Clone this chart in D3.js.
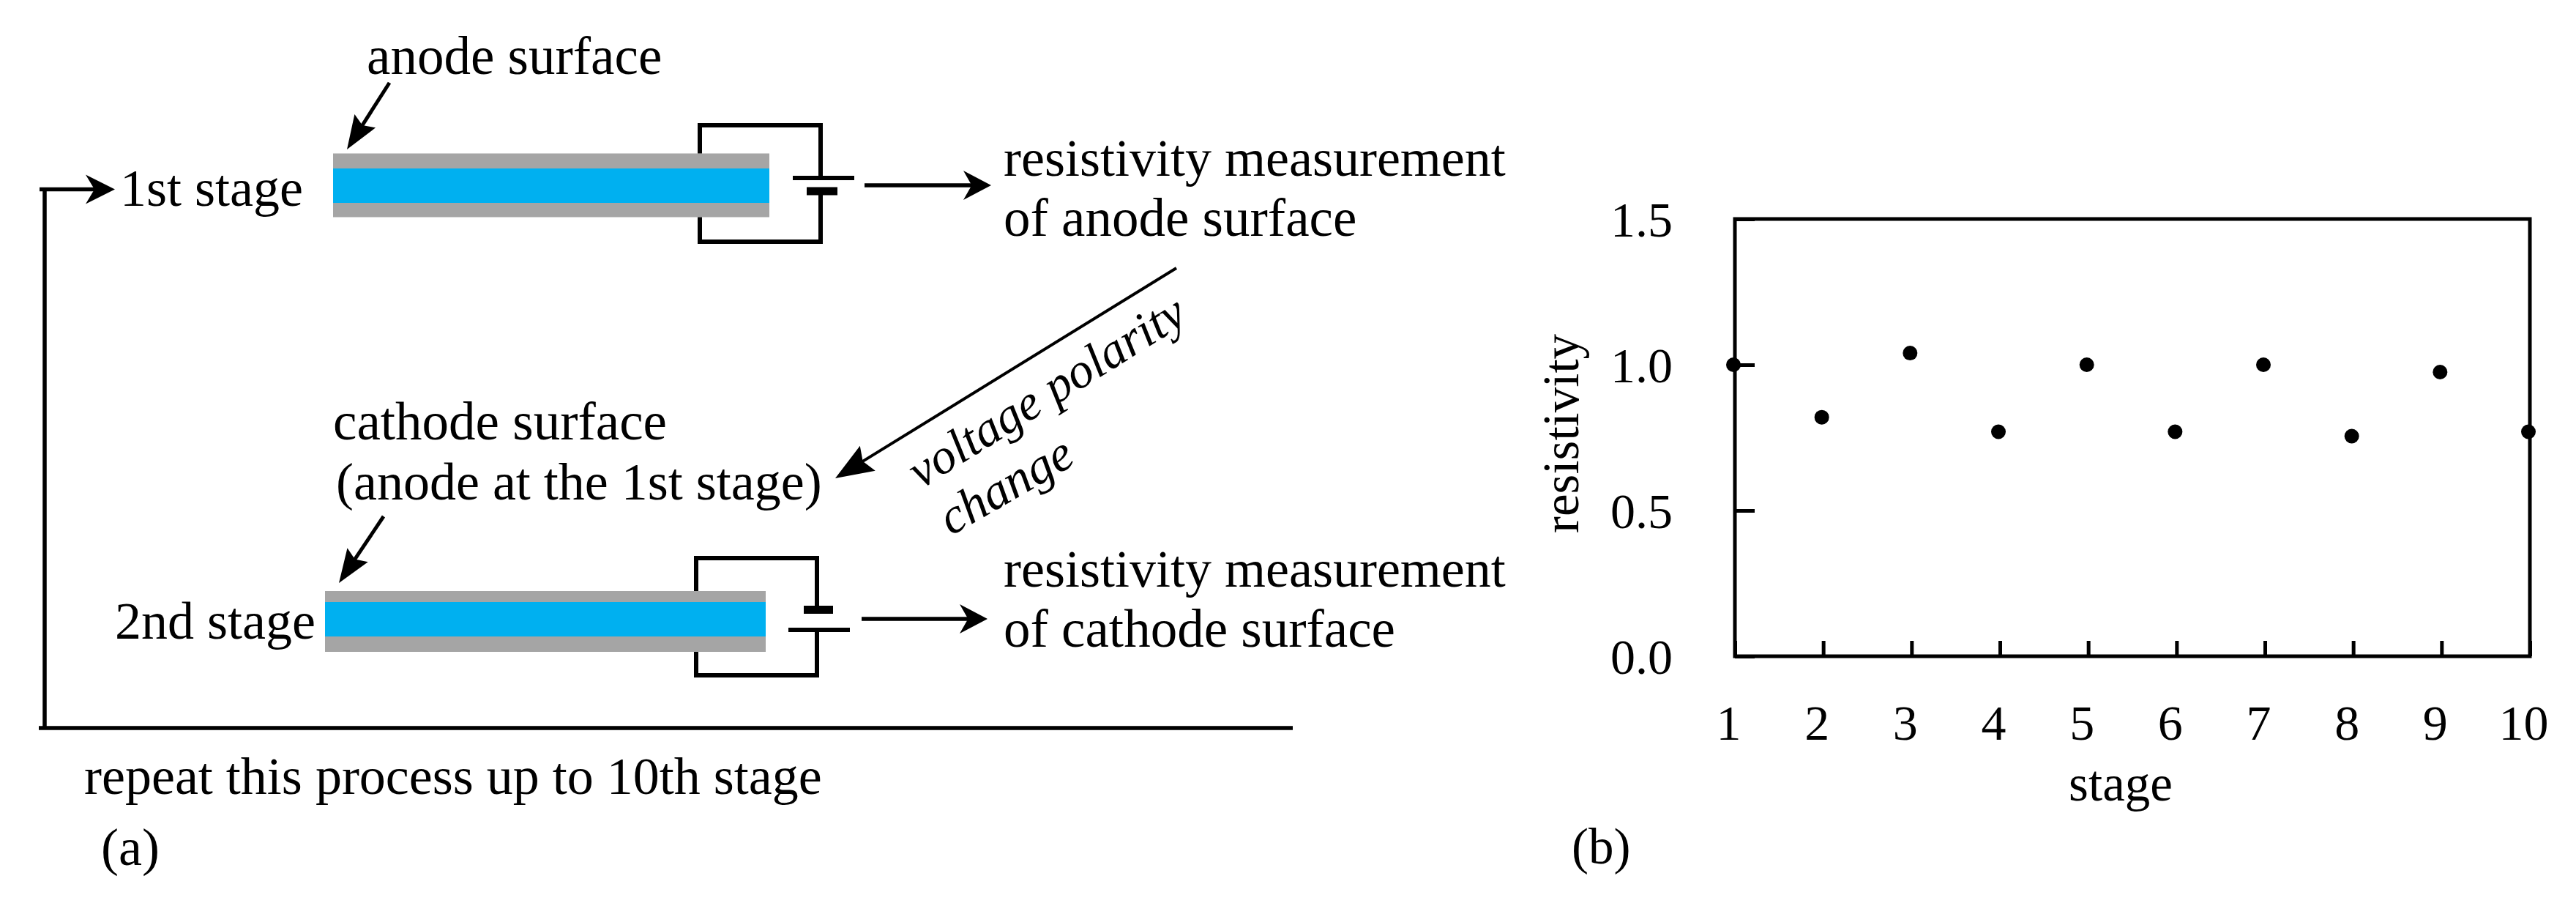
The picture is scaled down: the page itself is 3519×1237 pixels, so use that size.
<!DOCTYPE html>
<html>
<head>
<meta charset="utf-8">
<script src="https://cdn.jsdelivr.net/npm/d3@7"></script>
<style>
  html, body { margin: 0; padding: 0; background: #fff; }
  text { font-family: "Liberation Serif", serif; fill: #000; }
</style>
</head>
<body>
<svg id="fig" width="3519" height="1237"></svg>
<script>
// values for panel (b)
var stages = [1, 2, 3, 4, 5, 6, 7, 8, 9, 10];
var resistivity = [1.0, 0.82, 1.04, 0.77, 1.0, 0.77, 1.0, 0.755, 0.975, 0.77];
var yTicks = [0.0, 0.5, 1.0, 1.5];

var svg = d3.select("#fig");
svg.append("rect").attr("width", 3519).attr("height", 1237).attr("fill", "#fff");

var grey = "#a5a5a5";
var blue = "#00b0f0";

function label(x, y, str, size) {
    return svg.append("text").attr("x", x).attr("y", y)
        .attr("font-size", size || 72).text(str);
}

function line(x1, y1, x2, y2, w) {
    svg.append("line")
        .attr("x1", x1).attr("y1", y1).attr("x2", x2).attr("y2", y2)
        .attr("stroke", "#000").attr("stroke-width", w);
}

// straight arrow with a solid head, notch is how far back the head is cut
function arrow(x1, y1, x2, y2, w, len, half, notch) {
    var a = Math.atan2(y2 - y1, x2 - x1);
    var ca = Math.cos(a), sa = Math.sin(a);
    function pt(along, off) {
        return [x2 - along * ca - off * sa, y2 - along * sa + off * ca];
    }
    line(x1, y1, pt(len * 0.6, 0)[0], pt(len * 0.6, 0)[1], w);
    svg.append("path")
        .attr("d", d3.line()([pt(0, 0), pt(len, half), pt(len * notch, 0), pt(len, -half)]) + "Z")
        .attr("fill", "#000");
}

// layered sample plus the wire loop and battery
function cell(c) {
    svg.append("rect").attr("x", c.x0).attr("y", c.y0).attr("width", c.x1 - c.x0).attr("height", c.y1 - c.y0).attr("fill", grey);
    svg.append("rect").attr("x", c.x0).attr("y", c.b0).attr("width", c.x1 - c.x0).attr("height", c.b1 - c.b0).attr("fill", blue);
    svg.append("path")
        .attr("d", "M" + c.wl + "," + c.y0 + "V" + c.wt + "H" + c.wr + "V" + c.p0 +
                   "M" + c.wr + "," + c.p1 + "V" + c.wb + "H" + c.wl + "V" + c.y1)
        .attr("fill", "none").attr("stroke", "#000").attr("stroke-width", 6);
    c.plates.forEach(function (p) {
        line(p[0], p[2], p[1], p[2], p[3]);
    });
}

// ---------- panel (a) ----------
cell({ x0: 455, x1: 1051, y0: 209.5, y1: 296.5, b0: 230, b1: 277,
       wl: 956, wr: 1121, wt: 171, wb: 330, p0: 243, p1: 261,
       plates: [[1083, 1167, 243, 6], [1102, 1144, 261, 11]] });
cell({ x0: 444, x1: 1046, y0: 807, y1: 890, b0: 822, b1: 869,
       wl: 951, wr: 1116, wt: 762, wb: 922, p0: 832, p1: 860,
       plates: [[1098, 1138, 832.5, 11], [1077, 1161, 860, 6]] });

label(501, 101, "anode surface", 73);
arrow(532, 113, 474, 204, 5, 46, 17, 0.85);
label(164, 281, "1st stage");
label(157, 872, "2nd stage");
label(455, 600, "cathode surface", 73);
label(459, 682, "(anode at the 1st stage)");
arrow(524, 705, 463, 796, 5, 46, 17, 0.85);

// the return loop
svg.append("path").attr("d", "M1766,994H53M61,994V258.5")
    .attr("fill", "none").attr("stroke", "#000").attr("stroke-width", 5.5);
arrow(54, 258.5, 157, 258.5, 5.5, 40, 20, 0.7);

arrow(1181, 253, 1354, 253, 5.5, 38, 20, 0.7);
arrow(1177, 845, 1349, 845, 5.5, 38, 20, 0.7);
label(1371, 240, "resistivity measurement");
label(1371, 322, "of anode surface", 73);
label(1371, 801, "resistivity measurement");
label(1371, 883, "of cathode surface", 73);

arrow(1607, 366, 1141, 653, 4, 52, 20, 0.85);
label(0, 0, "voltage polarity", 68).attr("font-style", "italic")
    .attr("transform", "translate(1258,668) rotate(-32)");
label(0, 0, "change", 69).attr("font-style", "italic")
    .attr("transform", "translate(1299,732) rotate(-30)");

label(115, 1084, "repeat this process up to 10th stage");
label(138, 1181, "(a)");

// ---------- panel (b) ----------
var x = d3.scaleLinear().domain([1, 10]).range([2370, 3456]);
var y = d3.scaleLinear().domain([0, 1.5]).range([896, 299]);

var xAxis = d3.axisBottom(x).tickValues(stages).tickFormat(d3.format("d"))
    .tickSizeInner(-21).tickSizeOuter(0).tickPadding(0);
var yAxis = d3.axisLeft(y).tickValues(yTicks).tickFormat(d3.format(".1f"))
    .tickSizeInner(-27).tickSizeOuter(0).tickPadding(85);

var gx = svg.append("g").attr("transform", "translate(0,896)").call(xAxis);
var gy = svg.append("g").attr("transform", "translate(2370,0)").call(yAxis);

[gx, gy].forEach(function (g) {
    g.select(".domain").remove();
    g.selectAll("line").attr("stroke", "#000").attr("stroke-width", 5);
    g.selectAll("text").attr("font-size", 68).attr("font-family", "Liberation Serif");
});
gx.selectAll("text").attr("y", 114).attr("dy", 0).attr("dx", -9);
gy.selectAll("text").attr("dy", 23);

svg.append("rect")
    .attr("x", x.range()[0]).attr("y", y.range()[1])
    .attr("width", x.range()[1] - x.range()[0]).attr("height", y.range()[0] - y.range()[1])
    .attr("fill", "none").attr("stroke", "#000").attr("stroke-width", 5);

svg.selectAll("circle.pt").data(stages).enter().append("circle")
    .attr("class", "pt")
    .attr("cx", function (d) { return x(d) - 2; })
    .attr("cy", function (d, i) { return y(resistivity[i]); })
    .attr("r", 10).attr("fill", "#000");

label(2897, 1093, "stage", 69).attr("text-anchor", "middle");
label(0, 0, "resistivity", 69).attr("text-anchor", "middle")
    .attr("transform", "translate(2156,592) rotate(-90)");
label(2147, 1179, "(b)", 69);
</script>
</body>
</html>
